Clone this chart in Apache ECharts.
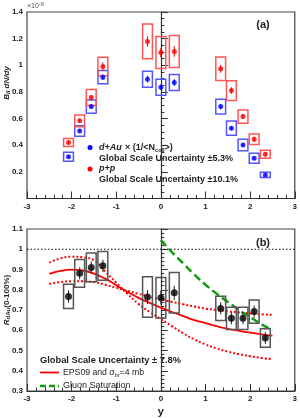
<!DOCTYPE html>
<html><head><meta charset="utf-8">
<script src="https://cdn.jsdelivr.net/npm/echarts@6/dist/echarts.min.js"></script>
<style>html,body{margin:0;padding:0;background:#fff}#c{width:300px;height:418px}</style>
</head><body><div id="c"></div>
<script>
// ---- data (panel a) ----
const rapidity = [-2.07, -1.82, -1.56, -1.30, -0.30, 0.00, 0.30, 1.34, 1.58, 1.84, 2.09, 2.34];
const dAuVals  = [0.314, 0.507, 0.690, 0.911, 0.896, 0.836, 0.870, 0.690, 0.528, 0.402, 0.302, 0.177];
const dAuSys   = [0.034, 0.040, 0.050, 0.050, 0.060, 0.060, 0.060, 0.055, 0.054, 0.043, 0.037, 0.020];
const dAuStat  = [0.012, 0.012, 0.015, 0.020, 0.025, 0.020, 0.025, 0.020, 0.015, 0.012, 0.012, 0.010];
const ppVals   = [0.420, 0.583, 0.758, 0.991, 1.179, 1.096, 1.104, 0.974, 0.810, 0.615, 0.445, 0.332];
const ppSys    = [0.030, 0.044, 0.060, 0.070, 0.130, 0.120, 0.120, 0.088, 0.074, 0.050, 0.040, 0.030];
const ppStat   = [0.015, 0.015, 0.020, 0.030, 0.040, 0.035, 0.040, 0.030, 0.025, 0.020, 0.020, 0.015];
// ---- data (panel b) ----
const rdAuVals = [0.767, 0.881, 0.910, 0.918, 0.764, 0.761, 0.785, 0.708, 0.659, 0.659, 0.692, 0.562];
const rdAuSys  = [0.060, 0.069, 0.071, 0.071, 0.100, 0.100, 0.100, 0.060, 0.055, 0.055, 0.057, 0.046];
const rdAuStat = [0.030, 0.030, 0.030, 0.030, 0.035, 0.035, 0.035, 0.030, 0.030, 0.030, 0.030, 0.030];
const curveX   = [-2.5, -2.25, -2.0, -1.75, -1.5, -1.25, -1.0, -0.75, -0.5, -0.25, 0, 0.25, 0.5, 0.75, 1.0, 1.25, 1.5, 1.75, 2.0, 2.25, 2.5];
const eps09Mid = [0.878, 0.893, 0.899, 0.895, 0.880, 0.855, 0.822, 0.790, 0.760, 0.735, 0.712, 0.690, 0.670, 0.650, 0.635, 0.620, 0.607, 0.597, 0.588, 0.580, 0.573];
const eps09A   = [0.934, 0.955, 0.963, 0.960, 0.945, 0.890, 0.835, 0.780, 0.730, 0.690, 0.655, 0.620, 0.585, 0.555, 0.530, 0.510, 0.495, 0.482, 0.472, 0.463, 0.457];
const eps09B   = [0.829, 0.838, 0.842, 0.842, 0.838, 0.825, 0.810, 0.795, 0.780, 0.765, 0.752, 0.740, 0.728, 0.717, 0.707, 0.700, 0.694, 0.688, 0.683, 0.679, 0.676];
const satX     = [0, 0.25, 0.5, 0.75, 1.0, 1.25, 1.5, 1.75, 2.0, 2.25, 2.5];
const satVals  = [1.045, 0.985, 0.930, 0.875, 0.825, 0.780, 0.740, 0.700, 0.665, 0.630, 0.600];
const xTicks = [-3, -2, -1, 0, 1, 2, 3];

const BOXW = 0.11;
const FF = 'Liberation Sans, Arial, sans-serif';
function pts(v, s, st) { return rapidity.map((x, i) => [x, v[i], s[i], st[i]]); }
function boxSeries(name, data, xi, yi, boxColor, errColor, boxWidth) {
  return {
    type: 'custom', name, xAxisIndex: xi, yAxisIndex: yi, data, z: 3,
    renderItem(params, api) {
      const x = api.value(0), y = api.value(1), s = api.value(2), st = api.value(3);
      const p1 = api.coord([x - BOXW, y + s]);
      const p2 = api.coord([x + BOXW, y - s]);
      const e1 = api.coord([x, y + st]);
      const e2 = api.coord([x, y - st]);
      return { type: 'group', children: [
        { type: 'rect', shape: { x: p1[0], y: p1[1], width: p2[0] - p1[0], height: p2[1] - p1[1] },
          style: { fill: 'none', stroke: boxColor, lineWidth: boxWidth } },
        { type: 'line', shape: { x1: e1[0], y1: e1[1], x2: e2[0], y2: e2[1] },
          style: { stroke: errColor, lineWidth: 1 } }
      ]};
    }
  };
}
function curve(xs, ys) { return xs.map((x, i) => [x, ys[i]]); }

const axisFont = { fontFamily: FF, fontSize: 8, fontWeight: 'bold', color: '#222' };
function xAx(gi) {
  return { type: 'value', gridIndex: gi, min: -3, max: 3, interval: 1,
    axisLine: { show: true, lineStyle: { color: '#333', width: 1.2 } },
    axisTick: { inside: true, length: 7, lineStyle: { color: '#333' } },
    minorTick: { show: true, splitNumber: 5, length: 3.5, lineStyle: { color: '#333' } },
    splitLine: { show: false },
    axisLabel: Object.assign({ margin: 4, formatter: v => xTicks.includes(v) ? String(v) : '' }, axisFont) };
}
const chart = echarts.init(document.getElementById('c'), null, { renderer: 'canvas' });
chart.setOption({
  animation: false,
  grid: [
    { left: 27, top: 12, width: 270, height: 186.5, show: true, borderColor: '#444', borderWidth: 1.2, backgroundColor: 'transparent' },
    { left: 27, top: 229, width: 270, height: 165, show: true, borderColor: '#444', borderWidth: 1.2, backgroundColor: 'transparent' }
  ],
  xAxis: [ xAx(0), Object.assign(xAx(1), {
    name: 'y', nameLocation: 'middle', nameGap: 15,
    nameTextStyle: { fontFamily: FF, fontSize: 11, fontWeight: 'bold', color: '#222' } }) ],
  yAxis: [
    { type: 'value', gridIndex: 0, min: 0, max: 1.4, interval: 0.2,
      axisLine: { show: true, lineStyle: { color: '#333', width: 1.2 } },
      axisTick: { inside: true, length: 7, lineStyle: { color: '#333' } },
      minorTick: { show: true, splitNumber: 4, length: 3.5, lineStyle: { color: '#333' } },
      splitLine: { show: false },
      axisLabel: Object.assign({ margin: 4, formatter: v => v === 0 ? '' : String(+v.toFixed(1)) }, axisFont) },
    { type: 'value', gridIndex: 1, min: 0.3, max: 1.1, interval: 0.1,
      axisLine: { show: true, lineStyle: { color: '#333', width: 1.2 } },
      axisTick: { inside: true, length: 7, lineStyle: { color: '#333' } },
      minorTick: { show: true, splitNumber: 5, length: 3.5, lineStyle: { color: '#333' } },
      splitLine: { show: false },
      axisLabel: Object.assign({ margin: 4, formatter: v => String(+v.toFixed(1)) }, axisFont) }
  ],
  series: [
    boxSeries('dAuBox', pts(dAuVals, dAuSys, dAuStat), 0, 0, '#5555ff', '#0000ee', 1.5),
    boxSeries('ppBox', pts(ppVals, ppSys, ppStat), 0, 0, '#ff5555', '#ee0000', 1.5),
    { type: 'scatter', name: 'd+Au', xAxisIndex: 0, yAxisIndex: 0, symbol: 'circle', symbolSize: 5, z: 4,
      itemStyle: { color: '#0000ff' }, data: rapidity.map((x, i) => [x, dAuVals[i]]) },
    { type: 'scatter', name: 'p+p', xAxisIndex: 0, yAxisIndex: 0, symbol: 'circle', symbolSize: 5, z: 4,
      itemStyle: { color: '#ff0000' }, data: rapidity.map((x, i) => [x, ppVals[i]]) },
    { type: 'line', name: 'unity', xAxisIndex: 1, yAxisIndex: 1, showSymbol: false, z: 1,
      lineStyle: { color: '#000', width: 1, type: [1.5, 2] }, data: [[-3, 1], [3, 1]] },
    { type: 'line', name: 'EPS09', xAxisIndex: 1, yAxisIndex: 1, smooth: true, showSymbol: false, z: 2,
      lineStyle: { color: '#ff0000', width: 1.8 }, data: curve(curveX, eps09Mid) },
    { type: 'line', name: 'EPS09a', xAxisIndex: 1, yAxisIndex: 1, smooth: true, showSymbol: false, z: 2,
      lineStyle: { color: '#ff0000', width: 2, type: [2, 2] }, data: curve(curveX, eps09A) },
    { type: 'line', name: 'EPS09b', xAxisIndex: 1, yAxisIndex: 1, smooth: true, showSymbol: false, z: 2,
      lineStyle: { color: '#ff0000', width: 2, type: [2, 2] }, data: curve(curveX, eps09B) },
    { type: 'line', name: 'Sat', xAxisIndex: 1, yAxisIndex: 1, smooth: true, showSymbol: false, z: 2,
      lineStyle: { color: '#119911', width: 2.5, type: [8, 4] }, data: curve(satX, satVals) },
    boxSeries('rdAuBox', pts(rdAuVals, rdAuSys, rdAuStat), 1, 1, '#555555', '#222222', 1.5),
    { type: 'scatter', name: 'RdAu', xAxisIndex: 1, yAxisIndex: 1, symbol: 'circle', symbolSize: 7, z: 4,
      itemStyle: { color: '#000' }, data: rapidity.map((x, i) => [x, rdAuVals[i]]) }
  ],
  graphic: [
    { type: 'text', x: 27, y: 6, style: { text: '×10{s|-6}', verticalAlign: 'middle', fill: '#555', font: '7px ' + FF,
      rich: { s: { fontSize: 6, fontFamily: FF, fill: '#555', padding: [0, 0, 4, 0] } } } },
    { type: 'text', x: 6.5, y: 83, rotation: Math.PI / 2, style: { text: '{i|B}{s|ll}{i| dN/dy}', align: 'center', verticalAlign: 'middle',
      rich: { i: { fontSize: 8, fontStyle: 'italic', fontWeight: 'bold', fontFamily: FF, fill: '#222' },
              s: { fontSize: 6, fontStyle: 'italic', fontWeight: 'bold', fontFamily: FF, fill: '#222', padding: [4, 0, 0, 0] } } } },
    { type: 'text', x: 6.5, y: 300, rotation: Math.PI / 2, style: { text: '{i|R}{s|dAu}{n|(0-100%)}', align: 'center', verticalAlign: 'middle',
      rich: { i: { fontSize: 8, fontStyle: 'italic', fontWeight: 'bold', fontFamily: FF, fill: '#222' },
              s: { fontSize: 6, fontWeight: 'bold', fontFamily: FF, fill: '#222', padding: [4, 0, 0, 0] },
              n: { fontSize: 8, fontWeight: 'bold', fontFamily: FF, fill: '#222' } } } },
    { type: 'text', x: 263, y: 25, style: { text: '(a)', font: 'bold 11px ' + FF, fill: '#222', align: 'center', verticalAlign: 'middle' } },
    { type: 'text', x: 263, y: 243, style: { text: '(b)', font: 'bold 11px ' + FF, fill: '#222', align: 'center', verticalAlign: 'middle' } },
    { type: 'circle', shape: { cx: 90, cy: 147.5, r: 2.5 }, style: { fill: '#0000ff' } },
    { type: 'text', x: 99, y: 147.5, style: { text: '{b|d+Au} {n|× (1/<N}{s|coll}{n|>)}', verticalAlign: 'middle',
      rich: { b: { fontSize: 9, fontStyle: 'italic', fontWeight: 'bold', fontFamily: FF, fill: '#222' },
              n: { fontSize: 9, fontWeight: 'bold', fontFamily: FF, fill: '#222' },
              s: { fontSize: 5.5, fontWeight: 'bold', fontFamily: FF, fill: '#222', padding: [5, 0, 0, 0] } } } },
    { type: 'text', x: 99, y: 158.5, style: { text: 'Global Scale Uncertainty ±5.3%', verticalAlign: 'middle', font: 'bold 9px ' + FF, fill: '#222' } },
    { type: 'circle', shape: { cx: 90, cy: 169, r: 2.5 }, style: { fill: '#ff0000' } },
    { type: 'text', x: 99, y: 169, style: { text: 'p+p', verticalAlign: 'middle', font: 'italic bold 9px ' + FF, fill: '#222' } },
    { type: 'text', x: 99, y: 179.5, style: { text: 'Global Scale Uncertainty ±10.1%', verticalAlign: 'middle', font: 'bold 9px ' + FF, fill: '#222' } },
    { type: 'text', x: 40, y: 360, style: { text: 'Global Scale Uncertainty ± 7.8%', verticalAlign: 'middle', font: 'bold 9.3px ' + FF, fill: '#222' } },
    { type: 'line', shape: { x1: 40, y1: 372.5, x2: 59, y2: 372.5 }, style: { stroke: '#ff0000', lineWidth: 1.8 } },
    { type: 'text', x: 63, y: 372.5, style: { text: 'EPS09 and σ{s|br}=4 mb', verticalAlign: 'middle', font: '8.7px ' + FF, fill: '#222',
      rich: { s: { fontSize: 5.5, fontFamily: FF, fill: '#222', padding: [5, 0, 0, 0] } } } },
    { type: 'line', shape: { x1: 40, y1: 386, x2: 59, y2: 386 }, style: { stroke: '#119911', lineWidth: 2.5, lineDash: [6, 3] } },
    { type: 'text', x: 63, y: 386, style: { text: 'Gluon Saturation', verticalAlign: 'middle', font: '9px ' + FF, fill: '#222' } }
  ]
});
</script></body></html>
